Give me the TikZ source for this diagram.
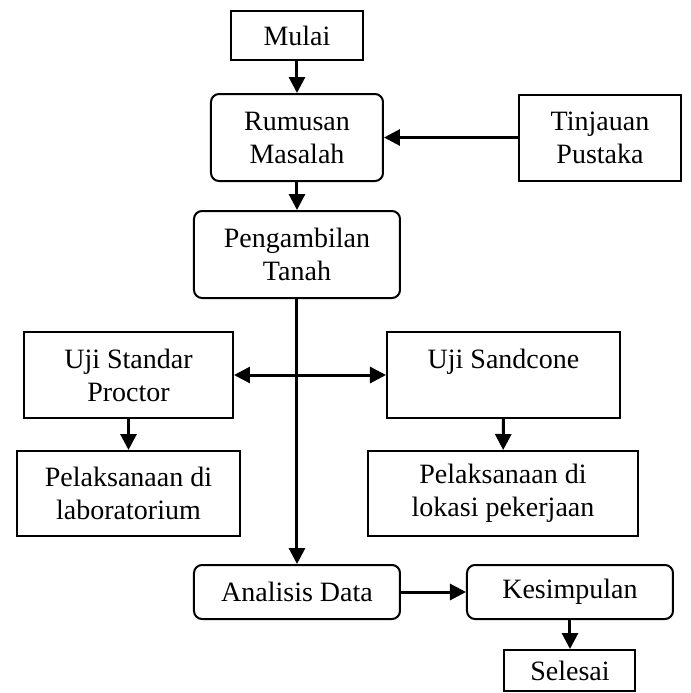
\documentclass[tikz,border=0pt]{standalone}
\usepackage{fontspec}
\setmainfont{Liberation Serif}
\usetikzlibrary{arrows.meta}
\tikzset{
  box/.style={draw,line width=1pt,align=center,inner sep=0pt,
    font=\fontsize{14}{16.5}\selectfont},
  rbox/.style={box,rounded corners=4pt},
  arr/.style={line width=1.5pt,-{Triangle[length=8pt,width=8pt]}},
  darr/.style={line width=1.5pt,{Triangle[length=8pt,width=8pt]}-{Triangle[length=8pt,width=8pt]}},
}
\begin{document}
\begin{tikzpicture}[x=0.5pt,y=-0.5pt]
\useasboundingbox (0,0) rectangle (691,693);
\node[box,minimum width=66pt,minimum height=24.5pt] (mulai) at (297,35.5) {Mulai};
\node[rbox,minimum width=86pt,minimum height=43.5pt] (rumusan) at (297,137.5) {Rumusan\\Masalah};
\node[box,minimum width=81pt,minimum height=43pt] (tinjauan) at (600,137.5) {Tinjauan\\Pustaka};
\node[rbox,minimum width=103pt,minimum height=43.5pt] (ambil) at (297,254.5) {Pengambilan\\Tanah};
\node[box,minimum width=104.5pt,minimum height=43pt] (proctor) at (128.5,375) {Uji Standar\\Proctor};
\node[box,minimum width=116.5pt,minimum height=43pt] (sandcone) at (503.5,375) {Uji Sandcone\\~};
\node[box,minimum width=111.5pt,minimum height=42.5pt] (lab) at (128.5,493.5) {Pelaksanaan di\\laboratorium};
\node[box,minimum width=135pt,minimum height=42.5pt] (lokasi) at (503,493.5) {Pelaksanaan di\\lokasi pekerjaan};
\node[rbox,minimum width=103pt,minimum height=27pt] (analisis) at (297,592) {Analisis Data};
\node[rbox,minimum width=103pt,minimum height=27pt] (simpul) at (570,592) {Kesimpulan};
\node[box,minimum width=65.5pt,minimum height=20.5pt] (selesai) at (570,670.5) {Selesai};
\draw[arr] (mulai) -- (rumusan);
\draw[arr] (tinjauan) -- (rumusan);
\draw[arr] (rumusan) -- (ambil);
\draw[arr] (ambil) -- (analisis);
\draw[darr] (proctor) -- (sandcone);
\draw[arr] (proctor) -- (lab);
\draw[arr] (sandcone) -- (lokasi);
\draw[arr] (analisis) -- (simpul);
\draw[arr] (simpul) -- (selesai);
\end{tikzpicture}
\end{document}
